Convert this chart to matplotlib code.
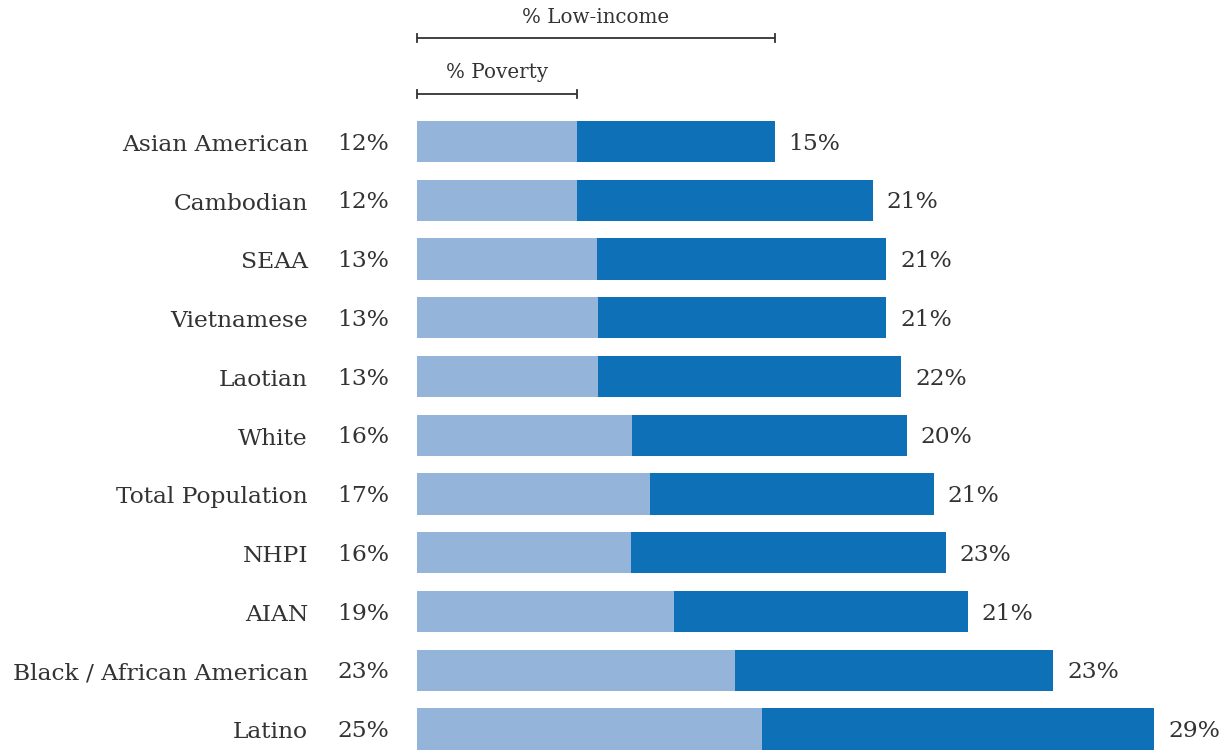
"""Poverty vs low-income share by group: stacked horizontal bars with bracket key."""

import matplotlib

matplotlib.use("Agg")
import matplotlib.pyplot as plt

# Data (shares in %, bar lengths estimated from pixels)
groups = [
    "Asian American", "Cambodian", "SEAA", "Vietnamese", "Laotian", "White",
    "Total Population", "NHPI", "AIAN", "Black / African American", "Latino",
]
poverty = [11.8, 11.8, 13.2, 13.3, 13.3, 15.8, 17.1, 15.7, 18.9, 23.4, 25.4]
low_income = [14.5, 21.7, 21.3, 21.2, 22.3, 20.2, 20.9, 23.2, 21.6, 23.4, 28.8]
poverty_labels = ["12%", "12%", "13%", "13%", "13%", "16%", "17%", "16%", "19%", "23%", "25%"]
low_income_labels = ["15%", "21%", "21%", "21%", "22%", "20%", "21%", "23%", "21%", "23%", "29%"]

LIGHT = "#94b4da"
DARK = "#0e71b8"
TEXT = "#333333"
FONT = "DejaVu Serif"

plt.rcParams["font.family"] = FONT

W, H, DPI = 1226, 751, 100
PX_PER_PCT = 13.6
X0 = 417            # pixel where 0% sits
ROW0, ROW_STEP = 141.5, 58.75

fig = plt.figure(figsize=(W / DPI, H / DPI), dpi=DPI)
ax = fig.add_axes([0, 0, 1, 1])
ax.set_xlim(-X0 / PX_PER_PCT, (W - X0) / PX_PER_PCT)
ax.set_ylim((H - ROW0) / ROW_STEP, -ROW0 / ROW_STEP)
ax.axis("off")

ys = list(range(len(groups)))
ax.barh(ys, poverty, height=0.70, color=LIGHT)
ax.barh(ys, low_income, left=poverty, height=0.70, color=DARK)

FS = 16.8
for y, name, p, li, pl, ll in zip(ys, groups, poverty, low_income,
                                  poverty_labels, low_income_labels):
    ax.annotate(name, (0, y), xytext=(-78.5, -2.5), textcoords="offset points",
                ha="right", va="center", fontsize=FS, color=TEXT)
    ax.annotate(pl, (0, y), xytext=(-20, -1.5), textcoords="offset points",
                ha="right", va="center", fontsize=FS, color=TEXT)
    ax.annotate(ll, (p + li, y), xytext=(10, -1.5), textcoords="offset points",
                ha="left", va="center", fontsize=FS, color=TEXT)

# Bracket key above the first row: spans of poverty and poverty + low-income
def bracket(x_end, y, label, y_label):
    ax.plot([0, x_end], [y, y], color=TEXT, lw=1.3, solid_capstyle="butt")
    for x in (0, x_end):
        ax.plot([x, x], [y - 0.07, y + 0.07], color=TEXT, lw=1.3)
    ax.text(x_end / 2, y_label, label, ha="center", va="center",
            fontsize=14.3, color=TEXT)

bracket(poverty[0] + low_income[0], -1.762, "% Low-income", -2.119)
bracket(poverty[0], -0.809, "% Poverty", -1.166)

fig.savefig("out.png", dpi=DPI)
